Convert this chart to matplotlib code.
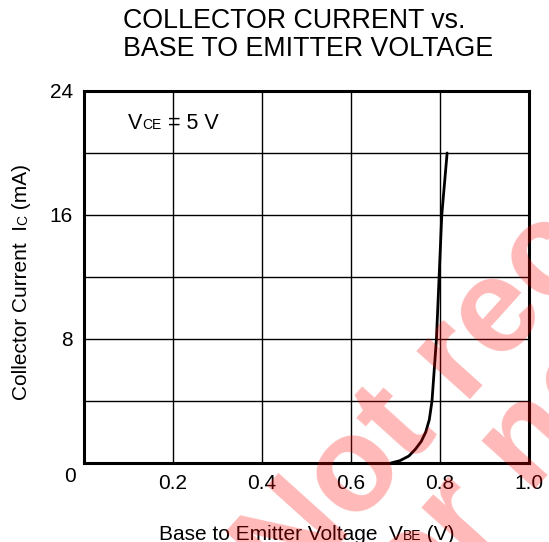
import numpy as np
import matplotlib
matplotlib.use("Agg")
import matplotlib.pyplot as plt
from matplotlib.transforms import IdentityTransform

plt.rcParams['font.family'] = ['Liberation Sans', 'DejaVu Sans']

# curve: VBE (V) vs IC (mA)
vbe = [0.69, 0.71, 0.73, 0.745, 0.758, 0.768, 0.776, 0.782, 0.787, 0.792, 0.798, 0.804, 0.810, 0.816]
ic = [0.0, 0.15, 0.45, 0.9, 1.4, 2.0, 2.8, 4.0, 6.0, 8.0, 12.0, 16.0, 18.0, 20.0]

x_ticks = [0.2, 0.4, 0.6, 0.8, 1.0]
x_labels = ['0.2', '0.4', '0.6', '0.8', '1.0']
y_ticks = [8, 16, 24]
y_labels = ['8', '16', '24']

W, H = 549, 542
fig = plt.figure(figsize=(W / 100, H / 100), dpi=100)
ax = fig.add_axes([84 / W, 1 - 463 / H, 445 / W, 372 / H])

ax.plot(vbe, ic, color='black', lw=2.0, solid_capstyle='round', zorder=3)
ax.set_xlim(0, 1.0)
ax.set_ylim(0, 24)

# grid
for gx in np.arange(0.2, 1.0, 0.2):
    ax.axvline(gx, color='black', lw=1.0, zorder=1)
for gy in range(4, 24, 4):
    ax.axhline(gy, color='black', lw=1.0, zorder=1)

for s in ax.spines.values():
    s.set_linewidth(2.2)
ax.tick_params(length=0, labelsize=15)
ax.tick_params(axis='x', pad=8)
ax.tick_params(axis='y', pad=8)
ax.set_xticks(x_ticks)
ax.set_xticklabels(x_labels)
ax.set_yticks(y_ticks)
ax.set_yticklabels(y_labels)
ax.annotate('0', xy=(0, 0), xytext=(-14, -13), textcoords='offset pixels',
            ha='center', va='center', fontsize=15)

fig.text(123 / W, 1 - 8 / H, 'COLLECTOR CURRENT vs.\nBASE TO EMITTER VOLTAGE',
         ha='left', va='top', fontsize=19.3, linespacing=1.1)

fig.canvas.draw()
renderer = fig.canvas.get_renderer()


def put_pieces(x, y, pieces, rotation=0):
    # write text pieces one after another along the baseline, in pixels
    for s, size in pieces:
        t = fig.text(x, y, s, fontsize=size, rotation=rotation,
                     rotation_mode='anchor', ha='left', va='baseline',
                     transform=IdentityTransform())
        bb = t.get_window_extent(renderer)
        if rotation == 90:
            y += bb.height
        else:
            x += bb.width


put_pieces(159, H - 539.5, [('Base to Emitter Voltage  V', 15), ('BE', 10), (' (V)', 15)])
put_pieces(27, H - 400, [('Collector Current  I', 15), ('C', 10), (' (mA)', 15)], rotation=90)
put_pieces(128, H - 129, [('V', 15.5), ('CE', 10), (' = 5 V', 15.5)])

# watermark, two lines laid along a 48 degree baseline
wm = dict(rotation=48, rotation_mode='anchor', ha='left', va='baseline',
          fontsize=97, fontweight='bold', color='red', alpha=0.28,
          zorder=10, transform=IdentityTransform())
fig.text(289, H - 600, 'Not recommended', **wm)
fig.text(384, H - 657, 'for new designs', **wm)

fig.savefig('out.png', dpi=100)
